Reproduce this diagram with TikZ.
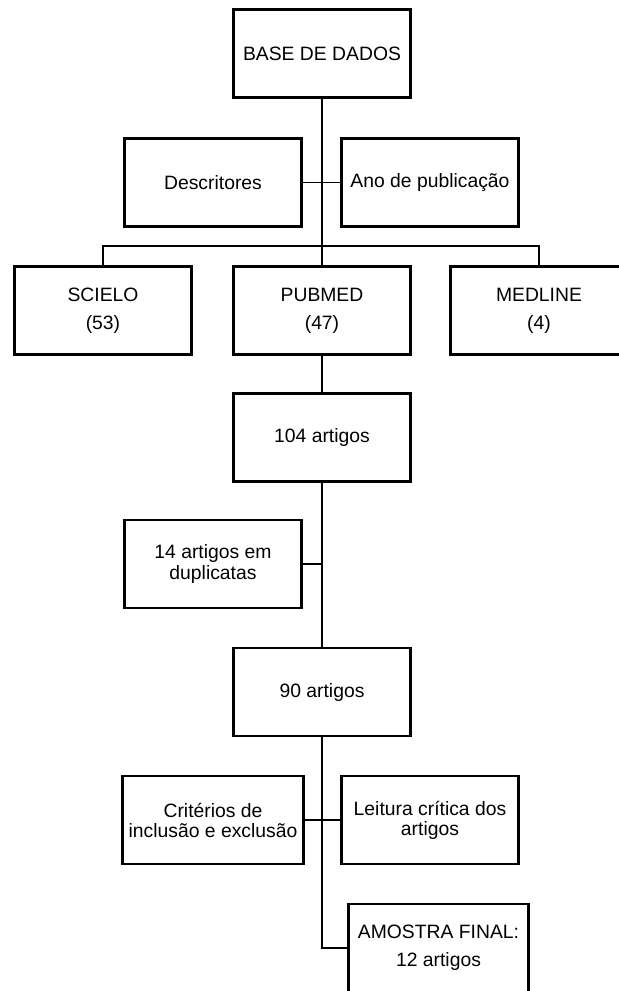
\documentclass[tikz,border=0pt]{standalone}
\usepackage{fontspec}
\setmainfont{Liberation Sans}
\usepackage{tikz}

\begin{document}
\begin{tikzpicture}
\useasboundingbox (0,0) rectangle (12.38,-19.82);
\begin{scope}[every node/.style={draw,line width=1.6pt,minimum width=3.55cm,
              minimum height=1.76cm,align=center,
              font=\fontsize{11}{11.4}\selectfont}]
    \node (base) at (6.44,-1.07) {BASE DE DADOS};
    \node (desc) at (4.26,-3.65) {Descritores};
    \node (ano) at (8.60,-3.65) {Ano de publicação};
    \node (scielo) at (2.06,-6.21) {SCIELO\\[4.6pt](53)};
    \node (pubmed) at (6.44,-6.21) {PUBMED\\[4.6pt](47)};
    \node (medline) at (10.78,-6.21) {MEDLINE\\[4.6pt](4)};
    \node (total) at (6.44,-8.75) {104 artigos};
    \node (dup) at (4.26,-11.28) {14 artigos em\\duplicatas};
    \node (rest) at (6.44,-13.84) {90 artigos};
    \node (crit) at (4.26,-16.40) {Critérios de\\inclusão e exclusão};
    \node (leit) at (8.60,-16.40) {Leitura crítica dos\\artigos};
    \node[minimum width=3.6cm] (final) at (8.77,-18.96) {AMOSTRA FINAL:\\[4.6pt]12 artigos};
\end{scope}
\begin{scope}[line width=0.7pt]
    \coordinate (bus) at (6.44,-4.92);
    \draw (base) -- (pubmed);
    \draw (desc) -- (ano);
    \draw (scielo) |- (bus) -| (medline);
    \draw (pubmed) -- (total);
    \draw (total) -- (rest);
    \draw (dup) -- (dup -| rest);
    \draw (crit) -- (leit);
    \draw (rest) |- (final);
\end{scope}
\end{tikzpicture}
\end{document}
